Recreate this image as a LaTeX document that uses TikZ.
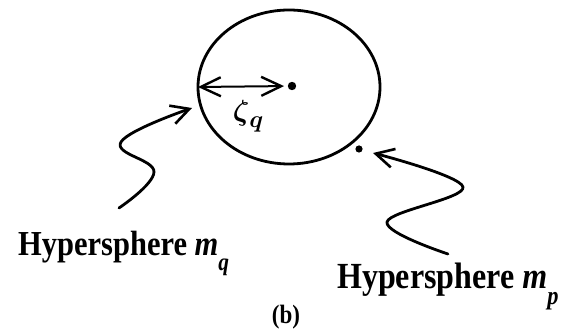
\documentclass[tikz,border=0pt]{standalone}
\usepackage{bm}
\usepackage{fontspec}
\setmainfont{Liberation Serif}
\usetikzlibrary{arrows.meta}
\tikzset{
  stroke/.style={line width=2.8pt, line cap=round, line join=round},
  vtip/.style={-{Straight Barb[length=18pt,width=19pt,line width=2.6pt]}},
  vtips/.style={{Straight Barb[length=20pt,width=19pt,line width=2.4pt]}-{Straight Barb[length=20pt,width=19pt,line width=2.4pt]}},
  lbl/.style={inner sep=0pt},
}
\newcommand{\bimath}[2]{{\bfseries\itshape #1}\raisebox{-0.42em}{\fontsize{0.7em}{0.7em}\selectfont\bfseries\itshape #2}}
\newcommand{\tallish}[1]{\scalebox{1}[1.15]{#1}}
\begin{document}
\begin{tikzpicture}[x=1pt,y=1pt]
\useasboundingbox (0,0) rectangle (563,329);
% sphere
\coordinate (C) at (292,243);
\draw[stroke] (289,242) ellipse [x radius=91, y radius=77];
\coordinate (E) at (198,242);
\fill (C) circle (4.2);
\draw[stroke, line width=2pt, vtips, shorten >=8pt] (E) -- (C);
\node[inner sep=0pt] (zeta) at (248,213) {\scalebox{2.9}{$\bm{\zeta}$}\raisebox{-7pt}{\scalebox{2.4}{$\bm{q}$}}};
% point p
\coordinate (P) at (359,180);
\fill (P) circle (3.6);
% left wavy arrow
\coordinate (L0) at (119,121);
\coordinate (L1) at (154,157);
\coordinate (L2) at (121,187);
\coordinate (Lt) at (192,221);
\draw[stroke, vtip] plot[smooth, tension=0.7] coordinates {(L0) (L1) (L2) (Lt)};
% right wavy arrow
\coordinate (R0) at (448,75);
\coordinate (R1) at (387,107);
\coordinate (R2) at (463,142);
\coordinate (Rt) at (373,176);
\draw[stroke, vtip] plot[smooth, tension=0.6] coordinates {(R0) (R1) (R2) (Rt)};
% labels
\node[lbl, anchor=base west, font=\fontsize{30.5}{30.5}\selectfont\bfseries] (hq) at (18,73) {\tallish{Hypersphere \bimath{m}{q}}};
\node[lbl, anchor=base west, font=\fontsize{32}{32}\selectfont\bfseries] (hp) at (337,40) {\tallish{Hypersphere \bimath{m}{p}}};
\node[lbl, font=\fontsize{23}{23}\selectfont\bfseries] (b) at (286,12) {\tallish{(b)}};
\end{tikzpicture}
\end{document}
